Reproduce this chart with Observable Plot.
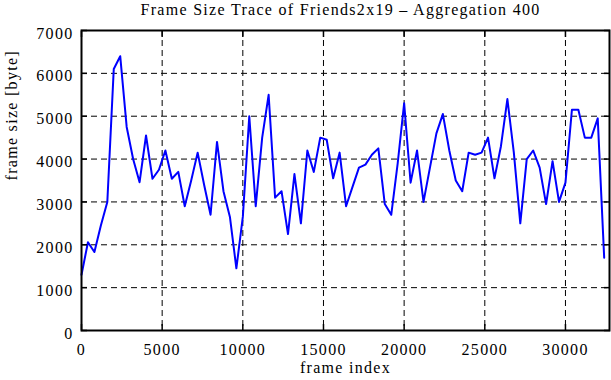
<!DOCTYPE html>
<html>
<head>
<meta charset="utf-8">
<script src="https://cdn.jsdelivr.net/npm/d3@7"></script>
<script src="https://cdn.jsdelivr.net/npm/@observablehq/plot@0.6"></script>
<style>
  html, body { margin: 0; padding: 0; background: #fff; }
  svg { display: block; }
  svg text { letter-spacing: 1.3px; font-family: 'Liberation Serif', 'Times New Roman', serif; }
</style>
</head>
<body>
<div id="chart"></div>
<script>
const titleText = "Frame Size Trace of Friends2x19 \u2013 Aggregation 400";
const xLabel = "frame index";
const yLabel = "frame size [byte]";

const frameIndex = [
  0, 400, 800, 1200, 1600, 2000, 2400, 2800, 3200, 3600,
  4000, 4400, 4800, 5200, 5600, 6000, 6400, 6800, 7200, 7600,
  8000, 8400, 8800, 9200, 9600, 10000, 10400, 10800, 11200, 11600,
  12000, 12400, 12800, 13200, 13600, 14000, 14400, 14800, 15200, 15600,
  16000, 16400, 16800, 17200, 17600, 18000, 18400, 18800, 19200, 19600,
  20000, 20400, 20800, 21200, 21600, 22000, 22400, 22800, 23200, 23600,
  24000, 24400, 24800, 25200, 25600, 26000, 26400, 26800, 27200, 27600,
  28000, 28400, 28800, 29200, 29600, 30000, 30400, 30800, 31200, 31600,
  32000, 32400
];
const frameSize = [
  1300, 2060, 1830, 2450, 3000, 6100, 6400, 4750, 4000, 3460,
  4550, 3540, 3750, 4200, 3540, 3700, 2900, 3500, 4150, 3400,
  2700, 4400, 3250, 2650, 1450, 2650, 5000, 2900, 4500, 5500,
  3100, 3250, 2250, 3650, 2500, 4200, 3700, 4500, 4450, 3550,
  4150, 2900, 3350, 3800, 3870, 4100, 4250, 2950, 2700, 3900,
  5300, 3450, 4200, 3000, 3800, 4600, 5050, 4200, 3500, 3250,
  4150, 4100, 4150, 4500, 3550, 4300, 5400, 4150, 2500, 4000,
  4200, 3800, 2950, 3950, 3000, 3450, 5150, 5150, 4500, 4500,
  4950, 1700
];
const xTicks = [0, 5000, 10000, 15000, 20000, 25000, 30000];
const yTicks = [0, 1000, 2000, 3000, 4000, 5000, 6000, 7000];

const data = frameIndex.map((x, i) => ({x, y: frameSize[i]}));
const fmt = d3.format("d");

const chart = Plot.plot({
  width: 611,
  height: 380,
  marginTop: 30,
  marginRight: 2,
  marginBottom: 50,
  marginLeft: 81,
  style: {
    fontFamily: "'Liberation Serif', 'Times New Roman', serif",
    fontSize: "16px",
    background: "white",
    color: "black"
  },
  x: {domain: [0, 32730]},
  y: {domain: [0, 7000]},
  marks: [
    Plot.gridX(xTicks.slice(1), {stroke: "black", strokeOpacity: 1, strokeWidth: 1, strokeDasharray: "6,4"}),
    Plot.gridY(yTicks.slice(1, -1), {stroke: "black", strokeOpacity: 1, strokeWidth: 1, strokeDasharray: "6,4"}),
    Plot.line(data, {x: "x", y: "y", stroke: "#0000ff", strokeWidth: 2}),
    Plot.axisX({anchor: "bottom", ticks: xTicks, tickFormat: fmt, tickSize: 0, tickPadding: 13, label: null, fill: "black"}),
    Plot.axisX({anchor: "bottom", ticks: xTicks, tickSize: -6, tickFormat: () => "", label: null, stroke: "black", strokeWidth: 1.5}),
    Plot.axisX({anchor: "top", ticks: xTicks, tickSize: -6, tickFormat: () => "", label: null, stroke: "black", strokeWidth: 1.5}),
    Plot.axisY({anchor: "left", ticks: yTicks, tickFormat: fmt, tickSize: 0, tickPadding: 8, dy: 3, label: null, fill: "black"}),
    Plot.axisY({anchor: "left", ticks: yTicks, tickSize: -6, tickFormat: () => "", label: null, stroke: "black", strokeWidth: 1.5}),
    Plot.axisY({anchor: "right", ticks: yTicks, tickSize: -6, tickFormat: () => "", label: null, stroke: "black", strokeWidth: 1.5}),
    Plot.frame({stroke: "black", strokeWidth: 2}),
    Plot.text([titleText], {frameAnchor: "top", dy: -21, dx: -5, lineAnchor: "middle", fill: "black"}),
    Plot.text([xLabel], {frameAnchor: "bottom", dy: 37, lineAnchor: "middle", fill: "black"}),
    Plot.text([yLabel], {frameAnchor: "left", dx: -70, rotate: -90, lineAnchor: "middle", fill: "black"})
  ]
});
document.getElementById("chart").appendChild(chart);
</script>
</body>
</html>
